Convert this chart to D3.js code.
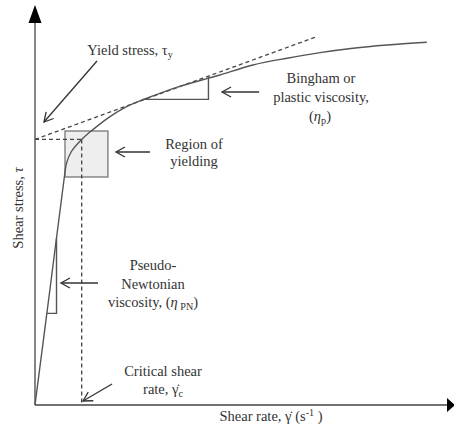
<!DOCTYPE html>
<html>
<head>
<meta charset="utf-8">
<script src="https://cdn.jsdelivr.net/npm/d3@7"></script>
<style>
  html, body { margin: 0; padding: 0; background: #fff; }
  svg { display: block; }
  text { font-family: "Liberation Serif", "Times New Roman", serif; fill: #333; }
</style>
</head>
<body>
<svg id="chart" width="454" height="427"></svg>
<script>
// Flow curve of a yield-stress fluid (shear rate vs shear stress, arbitrary units 0-100)
const shearRate   = [0, 3.64, 7.0,  7.69, 8.91, 11.33, 13.76, 18.2, 22.26, 26.3, 30.3, 34.4, 42.1, 44.9, 52.9, 61.2, 69.2, 77.2, 85.4, 95.1];
const shearStress = [0, 29,   56,   60.6, 63.5, 66.4,  68.6,  72.1, 74.6,  76.4, 77.9, 79.4, 81.7, 82.5, 85.0, 86.7, 88.1, 89.2, 90.0, 90.7];

// Bingham extrapolation: intercept = yield stress, slope = plastic viscosity
const yieldStress = 66.4;
const binghamSlope = 0.3757;
const binghamEnd = 68.4;
const criticalRate = 11.33;

// Region of yielding (shear-rate range, stress range)
const yieldRegionRate = [7.28, 17.7];
const yieldRegionStress = [57, 68.5];

// Slope triangles: [x, y] corners
const binghamStep = [[26.3, 76.4], [42.1, 76.4], [42.1, 82.2]];
const pnStep = [[2.87, 22.9], [5.22, 22.9], [5.22, 41.6]];

// Annotation arrows: [fromX, fromY, toX, toY] in data units
const arrowLines = [
  [15.05, 86.0, 2.18, 70.75],
  [27.9, 63.25, 19.66, 63.25],
  [54.4, 78.25, 45.4, 78.25],
  [15.3, 30.5, 6.3, 30.5],
  [18.7, 5.25, 11.65, 1.0]
];

const svg = d3.select("#chart");
const x = d3.scaleLinear().domain([0, 100]).range([35, 447]);
const y = d3.scaleLinear().domain([0, 100]).range([405, 5]);
const ink = "#555";

// Region of yielding box (drawn first, under the curve)
svg.append("rect")
  .attr("x", x(yieldRegionRate[0]))
  .attr("y", y(yieldRegionStress[1]))
  .attr("width", x(yieldRegionRate[1]) - x(yieldRegionRate[0]))
  .attr("height", y(yieldRegionStress[0]) - y(yieldRegionStress[1]))
  .attr("fill", "#eeeeee")
  .attr("stroke", "#777")
  .attr("stroke-width", 1.3);

// Axes with arrowheads
const axisG = svg.append("g");
axisG.append("line")
  .attr("x1", x(0)).attr("y1", y(0)).attr("x2", x(100)).attr("y2", y(0))
  .attr("stroke", "#444").attr("stroke-width", 1.3);
axisG.append("line")
  .attr("x1", x(0)).attr("y1", y(0)).attr("x2", x(0)).attr("y2", y(100) + 16)
  .attr("stroke", "#444").attr("stroke-width", 1.3);
axisG.append("path")
  .attr("d", `M${x(0) - 6.5},${y(100) + 18} L${x(0) + 6.5},${y(100) + 18} L${x(0)},${y(100)} Z`)
  .attr("fill", "#000");
axisG.append("path")
  .attr("d", `M${x(100)},${y(0) - 7} L${x(100)},${y(0) + 7} L${x(100) + 8},${y(0)} Z`)
  .attr("fill", "#000");

// Dashed guides: Bingham line, yield stress and critical rate
const dash = "4,3";
svg.append("line")
  .attr("x1", x(0)).attr("y1", y(yieldStress))
  .attr("x2", x(binghamEnd)).attr("y2", y(yieldStress + binghamSlope * binghamEnd))
  .attr("stroke", "#444").attr("stroke-width", 1.3).attr("stroke-dasharray", dash);
svg.append("line")
  .attr("x1", x(0)).attr("y1", y(yieldStress))
  .attr("x2", x(criticalRate)).attr("y2", y(yieldStress))
  .attr("stroke", "#444").attr("stroke-width", 1.3).attr("stroke-dasharray", dash);
svg.append("line")
  .attr("x1", x(criticalRate)).attr("y1", y(yieldStress))
  .attr("x2", x(criticalRate)).attr("y2", y(0))
  .attr("stroke", "#444").attr("stroke-width", 1.3).attr("stroke-dasharray", dash);

// Flow curve
const pts = shearRate.map((r, i) => [r, shearStress[i]]);
svg.append("path")
  .datum(pts)
  .attr("d", d3.line().x(d => x(d[0])).y(d => y(d[1])).curve(d3.curveCatmullRom.alpha(0.5)))
  .attr("fill", "none")
  .attr("stroke", ink)
  .attr("stroke-width", 1.4);

// Slope triangles
const stepLine = d3.line().x(d => x(d[0])).y(d => y(d[1]));
[binghamStep, pnStep].forEach(s => {
  svg.append("path").attr("d", stepLine(s))
    .attr("fill", "none").attr("stroke", ink).attr("stroke-width", 1.4);
});

// Annotation arrows with open heads
arrowLines.forEach(a => {
  const x1 = x(a[0]), y1 = y(a[1]), x2 = x(a[2]), y2 = y(a[3]);
  const ang = Math.atan2(y2 - y1, x2 - x1);
  const L = 9, W = 5;
  const bx = x2 - L * Math.cos(ang), by = y2 - L * Math.sin(ang);
  const px = -Math.sin(ang) * W, py = Math.cos(ang) * W;
  svg.append("line").attr("x1", x1).attr("y1", y1).attr("x2", x2).attr("y2", y2)
    .attr("stroke", "#333").attr("stroke-width", 1.3);
  svg.append("path")
    .attr("d", `M${bx + px},${by + py} L${x2},${y2} L${bx - px},${by - py}`)
    .attr("fill", "none").attr("stroke", "#333").attr("stroke-width", 1.3);
});

// Labels
const fs = 14.5;
function label(cx, cy, parts, anchor = "middle") {
  const t = svg.append("text").attr("x", cx).attr("y", cy)
    .attr("text-anchor", anchor).attr("font-size", fs);
  parts.forEach(p => {
    const ts = t.append("tspan").text(p.t);
    if (p.i) ts.attr("font-style", "italic");
    if (p.sub) ts.attr("font-size", fs * 0.7).attr("dy", 3);
    if (p.sup) ts.attr("font-size", fs * 0.7).attr("dy", -5);
    if (p.back) ts.attr("dy", p.back);
  });
  return t;
}

label(130, 55, [{t: "Yield stress, "}, {t: "τ"}, {t: "y", sub: true}]);
label(194, 149, [{t: "Region of"}]);
label(194, 166, [{t: "yielding"}]);
label(321, 83, [{t: "Bingham or"}]);
label(321, 102, [{t: "plastic viscosity,"}]);
label(320, 121, [{t: "("}, {t: "η", i: true}, {t: "p", sub: true}, {t: ")", back: -3}]);
label(153, 270, [{t: "Pseudo-"}]);
label(153, 288.5, [{t: "Newtonian"}]);
label(153, 307, [{t: "viscosity, ("}, {t: "η", i: true}, {t: " PN", sub: true}, {t: ")", back: -3}]);
label(163, 376, [{t: "Critical shear"}]);
label(163, 394, [{t: "rate, "}, {t: "γ̇"}, {t: "c", sub: true}]);
label(271, 421, [{t: "Shear rate, "}, {t: "γ̇"}, {t: " (s"}, {t: "-1", sup: true}, {t: " )", back: 5}]);

svg.append("text")
  .attr("transform", "translate(23,208) rotate(-90)")
  .attr("text-anchor", "middle")
  .attr("font-size", fs)
  .call(t => {
    t.append("tspan").text("Shear stress, ");
    t.append("tspan").text("τ").attr("font-style", "italic");
  });
</script>
</body>
</html>
